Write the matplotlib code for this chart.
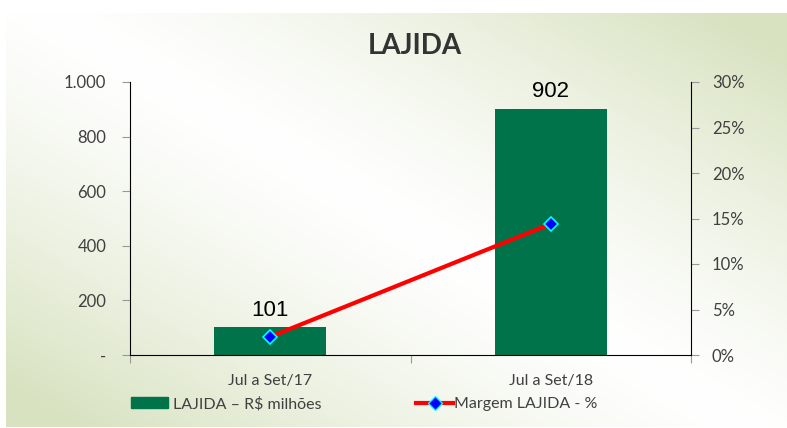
import numpy as np
import matplotlib
matplotlib.use("Agg")
import matplotlib.pyplot as plt
from matplotlib.lines import Line2D
from matplotlib.patches import Patch
from matplotlib.ticker import FuncFormatter

# data
categories = ["Jul a Set/17", "Jul a Set/18"]
lajida = [101, 902]
margem = [2.0, 14.4]  # %
left_ticks = [0, 200, 400, 600, 800, 1000]
right_ticks = [0, 5, 10, 15, 20, 25, 30]

green = "#00734a"
txt = "#404040"
font = "Lato"
fs = 11.5

fig = plt.figure(figsize=(7.87, 4.28), dpi=100)

# background gradient (greenish top-right / bottom-left)
bg = fig.add_axes([6 / 787, 1 / 428, 1 - 6 / 787, 1 - 14 / 428], zorder=-10)
h, w = 200, 360
yy, xx = np.mgrid[0:1:h * 1j, 0:1:w * 1j]
u = np.abs((xx - 0.5) + (yy - 0.5) * 0.9)  # origin lower: top-right & bottom-left
t = np.clip(u / 0.85, 0, 1) ** 1.3
c0 = np.array([1.0, 1.0, 1.0])
c1 = np.array([0.85, 0.89, 0.76])
img = c0[None, None, :] * (1 - t[..., None]) + c1[None, None, :] * t[..., None]
bg.imshow(img, aspect="auto", extent=[0, 1, 0, 1], origin="lower")
bg.axis("off")

ax = fig.add_axes([130 / 787, 1 - 355 / 428, 561 / 787, 273 / 428])
ax.patch.set_alpha(0)
x = np.arange(len(categories))
ax.bar(x, lajida, width=0.4, color=green, zorder=2)
ax.set_xlim(-0.5, 1.5)
ax.set_ylim(0, 1000)
for xi, v in zip(x, lajida):
    ax.text(xi, v + 25, str(v), ha="center", va="bottom", fontsize=16,
            family="Liberation Sans", color="black")

ax.set_yticks(left_ticks)
ax.yaxis.set_major_formatter(FuncFormatter(
    lambda v, p: "-" if v == 0 else f"{int(v):,}".replace(",", ".")))
ax.set_xticks([-0.5, 0.5, 1.5])
ax.set_xticklabels([])
ax.set_xticks(x, minor=True)
ax.set_xticklabels(categories, minor=True)
ax.tick_params(axis="x", which="minor", length=0, pad=14, labelsize=fs, labelcolor=txt)
ax.tick_params(axis="x", which="major", length=6, color="#999999", direction="out")
ax.tick_params(axis="y", length=6, color="#999999", labelsize=fs + 0.5, labelcolor=txt, pad=11)
for lab in ax.get_xticklabels(minor=True) + ax.get_yticklabels():
    lab.set_family(font)
ax.spines["top"].set_visible(False)
ax.spines["right"].set_visible(False)

ax2 = ax.twinx()
ax2.plot(x, margem, color="red", lw=3, zorder=3, marker="D", ms=7,
         markerfacecolor="blue", markeredgecolor="cyan", markeredgewidth=1.2)
ax2.set_ylim(0, 30)
ax2.set_yticks(right_ticks)
ax2.set_yticklabels([f"{v}%" for v in right_ticks])
ax2.tick_params(axis="y", length=6, color="#999999", labelsize=fs + 0.5, labelcolor=txt, pad=9)
for lab in ax2.get_yticklabels():
    lab.set_family(font)
ax2.spines["top"].set_visible(False)
ax2.spines["left"].set_visible(False)
ax2.spines["bottom"].set_visible(False)

fig.text(415 / 787, 1 - 46 / 428, "LAJIDA", ha="center", va="center",
         fontsize=20, fontweight="bold", family=font, color="#333333")

handles = [Patch(color=green),
           Line2D([0], [0], color="red", lw=3, marker="D", ms=7,
                  markerfacecolor="blue", markeredgecolor="cyan")]
fig.legend(handles[:1], ["LAJIDA – R$ milhões"], loc="center", frameon=False,
           bbox_to_anchor=(226 / 787, 1 - 404 / 428), prop={"family": font, "size": fs},
           labelcolor=txt, handlelength=2.3, handletextpad=0.3)
fig.legend(handles[1:], ["Margem LAJIDA - %"], loc="center", frameon=False,
           bbox_to_anchor=(507 / 787, 1 - 404 / 428), prop={"family": font, "size": fs},
           labelcolor=txt, handlelength=2.3, handletextpad=0.1)

fig.savefig("out.png", dpi=100)
